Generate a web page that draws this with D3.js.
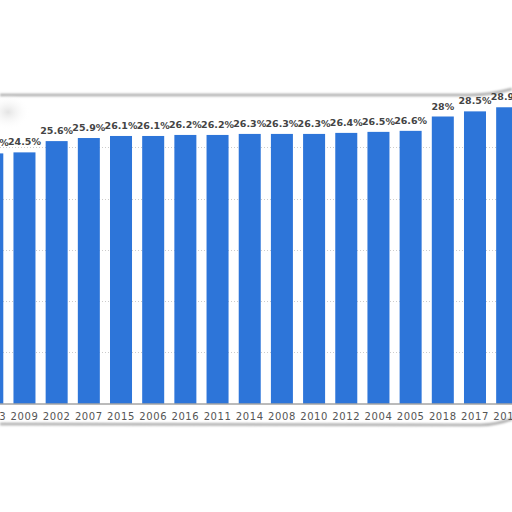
<!DOCTYPE html>
<html>
<head>
<meta charset="utf-8">
<script src="https://cdn.jsdelivr.net/npm/d3@7"></script>
<style>
	html,body{margin:0;padding:0;background:#fff;}
	svg{display:block;}
</style>
</head>
<body>
<svg id="chart" width="512" height="512"></svg>
<script>
(()=>{

//data (sorted by value, cropped at both sides)
let years = ["2003","2009","2002","2007","2015","2006","2016","2011","2014","2008","2010","2012","2004","2005","2018","2017","2019"];
let shares = [24.4,24.5,25.6,25.9,26.1,26.1,26.2,26.2,26.3,26.3,26.3,26.4,26.5,26.6,28,28.5,28.9];
let gridValues = [5,10,15,20,25];

let svg = d3.select("#chart"),
	width = +svg.attr("width"),
	height = +svg.attr("height");

//scales: the chart is wider than the window, so the range runs off both edges
let step = 32.18;
let x = d3.scaleBand()
	.domain(years)
	.range([-23.8, -23.8 + years.length*step])
	.paddingInner(0.316)
	.paddingOuter(0.158);
let y = d3.scaleLinear()
	.domain([0, 30])
	.range([403.5, 96]);

//soft shadow for the card edges
let defs = svg.append("defs");
defs.append("filter").attr("id","soft")
	.attr("x","-5%").attr("y","-200%").attr("width","110%").attr("height","500%")
	.append("feGaussianBlur").attr("stdDeviation",1.2);
let smudge = defs.append("radialGradient").attr("id","smudge");
smudge.append("stop").attr("offset","0%").attr("stop-color","#ddd").attr("stop-opacity",0.8);
smudge.append("stop").attr("offset","100%").attr("stop-color","#fff").attr("stop-opacity",0);

//card edges
svg.append("path")
	.attr("d","M0,95 L470,95 Q490,95 512,89")
	.attr("fill","none").attr("stroke","#aaa").attr("stroke-width",2.5)
	.attr("filter","url(#soft)");
svg.append("path")
	.attr("d","M0,424 L480,425 Q495,425 512,419")
	.attr("fill","none").attr("stroke","#aaa").attr("stroke-width",2.5)
	.attr("filter","url(#soft)");
svg.append("ellipse")
	.attr("cx",8).attr("cy",112).attr("rx",22).attr("ry",18)
	.attr("fill","url(#smudge)");

//gridlines
svg.selectAll(".grid")
	.data(gridValues)
	.enter().append("line")
	.attr("class","grid")
	.attr("x1",0)
	.attr("x2",width)
	.attr("y1",d => Math.round(y(d))+0.5)
	.attr("y2",d => Math.round(y(d))+0.5)
	.attr("stroke","#ccc")
	.attr("stroke-dasharray","1,2")
	.attr("stroke-width",1);

//bars
svg.selectAll(".bar")
	.data(years)
	.enter().append("rect")
	.attr("class","bar")
	.attr("x",d => x(d))
	.attr("width",x.bandwidth())
	.attr("y",(d,i) => y(shares[i]))
	.attr("height",(d,i) => y(0) - y(shares[i]))
	.attr("fill","#2d75d9");

//value labels
svg.selectAll(".val")
	.data(years)
	.enter().append("text")
	.attr("class","val")
	.attr("x",d => x(d) + x.bandwidth()/2)
	.attr("y",(d,i) => y(shares[i]) - 7)
	.attr("text-anchor","middle")
	.attr("font-family","'DejaVu Sans', sans-serif")
	.attr("font-size",9.5)
	.attr("font-weight","bold")
	.attr("fill","#444")
	.text((d,i) => shares[i] + "%");

//x axis
let xAxis = svg.append("g")
	.attr("transform","translate(0," + y(0) + ")")
	.call(d3.axisBottom(x).tickSize(0).tickPadding(9));
xAxis.select(".domain").attr("stroke","#777");
xAxis.selectAll("text")
	.attr("font-family","'DejaVu Sans', sans-serif")
	.attr("font-size",10)
	.attr("letter-spacing","0.6px")
	.attr("fill","#555");

})();
</script>
</body>
</html>
